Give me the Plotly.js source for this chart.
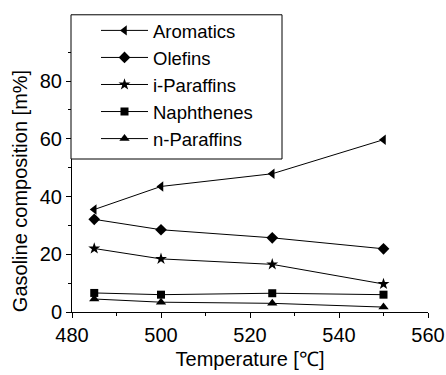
<!DOCTYPE html>
<html><head><meta charset="utf-8">
<script src="https://cdn.plot.ly/plotly-3.0.1.min.js"></script>
<style>html,body{margin:0;padding:0;background:#fff}#chart{width:446px;height:375px}</style>
</head><body><div id="chart"></div>
<script>
var temperatures = [485, 500, 525, 550];
var aromatics = [35.5, 43.5, 47.9, 59.7];
var olefins = [32.1, 28.5, 25.7, 21.9];
var iParaffins = [22.0, 18.4, 16.5, 9.7];
var naphthenes = [6.6, 6.0, 6.5, 6.0];
var nParaffins = [4.5, 3.4, 3.0, 1.7];
var seriesNames = ["Aromatics", "Olefins", "i-Paraffins", "Naphthenes", "n-Paraffins"];
var seriesValues = [aromatics, olefins, iParaffins, naphthenes, nParaffins];
var symbols = ["triangle-left", "diamond", "star", "square", "triangle-up"];
var sizes = [9, 9, 9, 8, 9];

var traces = seriesNames.map(function (n, i) {
  return {
    x: temperatures, y: seriesValues[i], name: n, type: "scatter", mode: "lines+markers",
    line: {color: "#000", width: 1},
    marker: {symbol: symbols[i], size: sizes[i], color: "#000"}
  };
});

// plot area in px: x 72..428, y 38..312
var PL = 72, PW = 356, PT = 38, PH = 274;
function px2x(p) { return (p - PL) / PW; }
function px2y(p) { return 1 - (p - PT) / PH; }

var font = {family: "Liberation Sans, Arial, sans-serif", size: 20, color: "#000"};
var layout = {
  width: 446, height: 375,
  margin: {l: PL, r: 446 - PL - PW, t: PT, b: 375 - PT - PH},
  paper_bgcolor: "#fff", plot_bgcolor: "#fff",
  font: font,
  showlegend: true,
  legend: {x: px2x(96), y: px2y(4), xanchor: "left", yanchor: "top", bgcolor: "rgba(0,0,0,0)",
    borderwidth: 0, font: {family: font.family, size: 18.5, color: "#000"},
    itemwidth: 47, tracegroupgap: 0},
  shapes: [{type: "rect", xref: "paper", yref: "paper", x0: px2x(71), x1: px2x(282), y0: px2y(155), y1: px2y(7),
    line: {color: "#000", width: 1}, fillcolor: "#fff", layer: "above"}],
  annotations: [{text: "Gasoline composition [m%]", xref: "paper", yref: "paper", x: px2x(20), y: px2y(188),
    textangle: -90, showarrow: false, font: font, xanchor: "center", yanchor: "middle"}],
  xaxis: {range: [480, 560], tickvals: [480, 500, 520, 540, 560], showline: true, linecolor: "#000", linewidth: 1,
    ticks: "outside", ticklen: 5, tickcolor: "#000", showgrid: false, zeroline: false,
    minor: {tickvals: [490, 510, 530, 550], ticks: "outside", ticklen: 3, tickcolor: "#000", showgrid: false},
    title: {text: "Temperature [℃]", font: font, standoff: 6}, tickfont: font},
  yaxis: {range: [0, 92.5], tickvals: [0, 20, 40, 60, 80], showline: true, linecolor: "#000", linewidth: 1,
    ticks: "outside", ticklen: 5, tickcolor: "#000", showgrid: false, zeroline: false,
    minor: {tickvals: [10, 30, 50, 70, 90], ticks: "outside", ticklen: 3, tickcolor: "#000", showgrid: false},
    tickfont: font}
};
Plotly.newPlot("chart", traces, layout, {displayModeBar: false, staticPlot: true});
</script></body></html>
